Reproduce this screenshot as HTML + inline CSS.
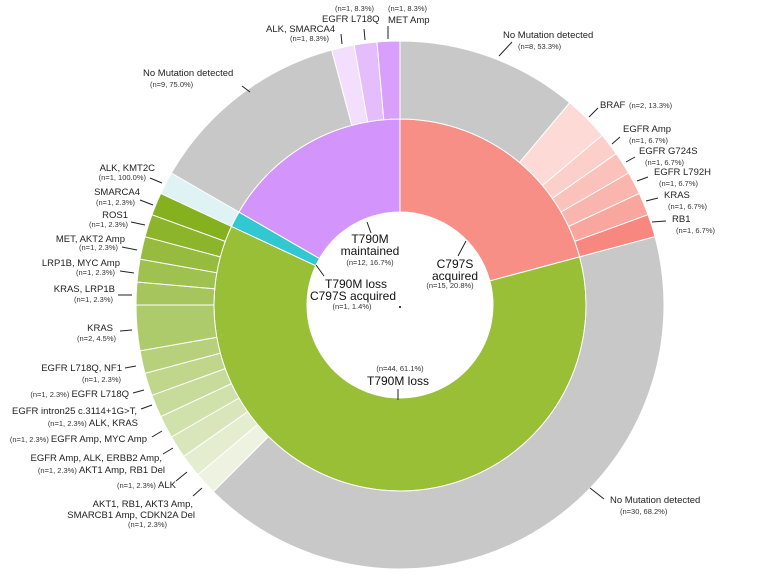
<!DOCTYPE html>
<html><head><meta charset="utf-8"><style>
body{margin:0;background:#fff;}
svg{display:block;font-family:"Liberation Sans",sans-serif;}
.n{font-size:7.5px;fill:#333}
.l{font-size:9.5px;fill:#222}
.c{font-size:12px;fill:#111}
</style></head><body>
<svg id="s" width="769" height="577" viewBox="0 0 769 577">
<g id="arcs"></g>
<g stroke="#222" stroke-width="1">
<line x1="367" y1="222" x2="371" y2="233"/>
<line x1="466" y1="241" x2="458" y2="256"/>
<line x1="398" y1="389" x2="398" y2="400"/>
<line x1="316" y1="265" x2="324" y2="276"/>
<line x1="499" y1="56" x2="512" y2="42"/>
<line x1="589" y1="117" x2="598" y2="108"/>
<line x1="612" y1="144" x2="620" y2="137"/>
<line x1="626" y1="162" x2="635" y2="157"/>
<line x1="637" y1="181" x2="648" y2="177"/>
<line x1="646" y1="201" x2="658" y2="198"/>
<line x1="652" y1="222" x2="666" y2="221"/>
<line x1="590" y1="488" x2="604" y2="499"/>
<line x1="242" y1="86" x2="250" y2="92"/>
<line x1="341" y1="34" x2="342" y2="44"/>
<line x1="364" y1="29" x2="365" y2="40"/>
<line x1="388" y1="26" x2="388" y2="39"/>
<line x1="150" y1="178" x2="162" y2="183"/>
<line x1="140" y1="200" x2="153" y2="205"/>
<line x1="131" y1="222" x2="145" y2="225"/>
<line x1="122" y1="247" x2="137" y2="250"/>
<line x1="120" y1="271" x2="134" y2="273"/>
<line x1="118" y1="295" x2="132" y2="295"/>
<line x1="120" y1="331" x2="132" y2="330"/>
<line x1="125" y1="368" x2="136" y2="366"/>
<line x1="133" y1="393" x2="144" y2="390"/>
<line x1="141" y1="409" x2="152" y2="405"/>
<line x1="152" y1="437" x2="162" y2="431"/>
<line x1="163" y1="454" x2="173" y2="448"/>
<line x1="176" y1="481" x2="187" y2="472"/>
<line x1="193" y1="496" x2="202" y2="488"/>
</g>
<g text-anchor="middle">
<text class="c" x="370" y="243">T790M</text>
<text class="c" x="370" y="255">maintained</text>
<text class="n" x="370" y="265">(n=12, 16.7%)</text>
<text class="c" x="455" y="268">C797S</text>
<text class="c" x="455" y="280">acquired</text>
<text class="n" x="450" y="288">(n=15, 20.8%)</text>
<text class="c" x="356" y="288">T790M loss</text>
<text class="c" x="353" y="300">C797S acquired</text>
<text class="n" x="352" y="309">(n=1, 1.4%)</text>
<text class="n" x="400" y="371">(n=44, 61.1%)</text>
<text class="c" x="398" y="385">T790M loss</text>
</g>
<circle cx="400" cy="307" r="1" fill="#000"/>
<text class="l" x="503" y="38">No Mutation detected</text>
<text class="n" x="518" y="49">(n=8, 53.3%)</text>
<text class="l" x="600" y="108">BRAF</text><text class="n" x="629" y="108">(n=2, 13.3%)</text>
<text class="l" x="623" y="132">EGFR Amp</text><text class="n" x="629" y="143">(n=1, 6.7%)</text>
<text class="l" x="639" y="154">EGFR G724S</text><text class="n" x="645" y="165">(n=1, 6.7%)</text>
<text class="l" x="654" y="175">EGFR L792H</text><text class="n" x="659" y="186">(n=1, 6.7%)</text>
<text class="l" x="664" y="198">KRAS</text><text class="n" x="668" y="209">(n=1, 6.7%)</text>
<text class="l" x="672" y="222">RB1</text><text class="n" x="676" y="233">(n=1, 6.7%)</text>
<text class="l" x="610" y="503">No Mutation detected</text><text class="n" x="620" y="514">(n=30, 68.2%)</text>
<text class="l" x="143" y="76">No Mutation detected</text><text class="n" x="150" y="87">(n=9, 75.0%)</text>
<text class="l" x="266" y="32">ALK, SMARCA4</text><text class="n" x="290" y="41">(n=1, 8.3%)</text>
<text class="n" x="335" y="11">(n=1, 8.3%)</text><text class="l" x="322" y="22">EGFR L718Q</text>
<text class="n" x="388" y="11">(n=1, 8.3%)</text><text class="l" x="388" y="23">MET Amp</text>
<g text-anchor="end">
<text class="l" x="155" y="171">ALK, KMT2C</text><text class="n" x="146" y="180">(n=1, 100.0%)</text>
<text class="l" x="140" y="195">SMARCA4</text><text class="n" x="135" y="205">(n=1, 2.3%)</text>
<text class="l" x="128" y="218">ROS1</text><text class="n" x="128" y="227">(n=1, 2.3%)</text>
<text class="l" x="125" y="242">MET, AKT2 Amp</text><text class="n" x="118" y="250">(n=1, 2.3%)</text>
<text class="l" x="120" y="266">LRP1B, MYC Amp</text><text class="n" x="115" y="275">(n=1, 2.3%)</text>
<text class="l" x="115" y="292">KRAS, LRP1B</text><text class="n" x="113" y="302">(n=1, 2.3%)</text>
<text class="l" x="113" y="331">KRAS</text><text class="n" x="116" y="341">(n=2, 4.5%)</text>
<text class="l" x="122" y="371">EGFR L718Q, NF1</text><text class="n" x="121" y="382">(n=1, 2.3%)</text>
<text class="l" x="129" y="397"><tspan class="n">(n=1, 2.3%) </tspan>EGFR L718Q</text>
<text class="l" x="137" y="414">EGFR intron25 c.3114+1G&gt;T,</text>
<text class="l" x="138" y="426"><tspan class="n">(n=1, 2.3%) </tspan>  ALK, KRAS</text>
<text class="l" x="147" y="442"><tspan class="n">(n=1, 2.3%) </tspan>EGFR Amp, MYC Amp</text>
<text class="l" x="162" y="461">EGFR Amp, ALK, ERBB2 Amp,</text>
<text class="l" x="165" y="473"><tspan class="n">(n=1, 2.3%) </tspan> AKT1 Amp, RB1 Del</text>
<text class="l" x="176" y="488"><tspan class="n">(n=1, 2.3%) </tspan>ALK</text>
<text class="l" x="193" y="507">AKT1, RB1, AKT3 Amp,</text>
<text class="l" x="195" y="518">SMARCB1 Amp, CDKN2A Del</text>
<text class="n" x="167" y="527">(n=1, 2.3%)</text>
</g>
</svg>
<script>
var cx=400,cy=305,r0=93,r1=186,r2=264;
function arc(a0,a1,ri,ro,col){
 function p(r,a){a=(a-90)*Math.PI/180;return [cx+r*Math.cos(a),cy+r*Math.sin(a)];}
 var lg=(a1-a0)>180?1:0;
 var A=p(ro,a0),B=p(ro,a1),C=p(ri,a1),D=p(ri,a0);
 var d="M"+A+" A"+ro+","+ro+" 0 "+lg+" 1 "+B+" L"+C+" A"+ri+","+ri+" 0 "+lg+" 0 "+D+"Z";
 var e=document.createElementNS("http://www.w3.org/2000/svg","path");
 e.setAttribute("d",d);e.setAttribute("fill",col);e.setAttribute("stroke","#fff");e.setAttribute("stroke-width","1");
 document.getElementById("arcs").appendChild(e);
}
arc(0,75,r0,r1,"#f88f87");arc(75,295,r0,r1,"#98bf36");arc(295,300,r0,r1,"#32c8d2");arc(300,360,r0,r1,"#d394fb");
var o=[[40,"#c8c8c8"],[10,"#fddad6"],[5,"#fccfca"],[5,"#fbc2bc"],[5,"#fab5ae"],[5,"#f9a69e"],[5,"#f8877f"],
[150,"#c8c8c8"],[5,"#eef2e0"],[5,"#e4edcf"],[5,"#d9e6bc"],[5,"#d0e1ab"],[5,"#c7db9b"],[5,"#bfd68b"],[5,"#b7d07c"],[10,"#aecb6b"],[5,"#a6c55c"],[5,"#9fc14f"],[5,"#96bb3e"],[5,"#8db52c"],[5,"#85b11f"],
[5,"#dff2f4"],[45,"#c8c8c8"],[5,"#f3dffd"],[5,"#e5bdfc"],[5,"#d89ffb"]];
var a=0;o.forEach(function(s){arc(a,a+s[0],r1,r2,s[1]);a+=s[0];});
</script>
</body></html>
